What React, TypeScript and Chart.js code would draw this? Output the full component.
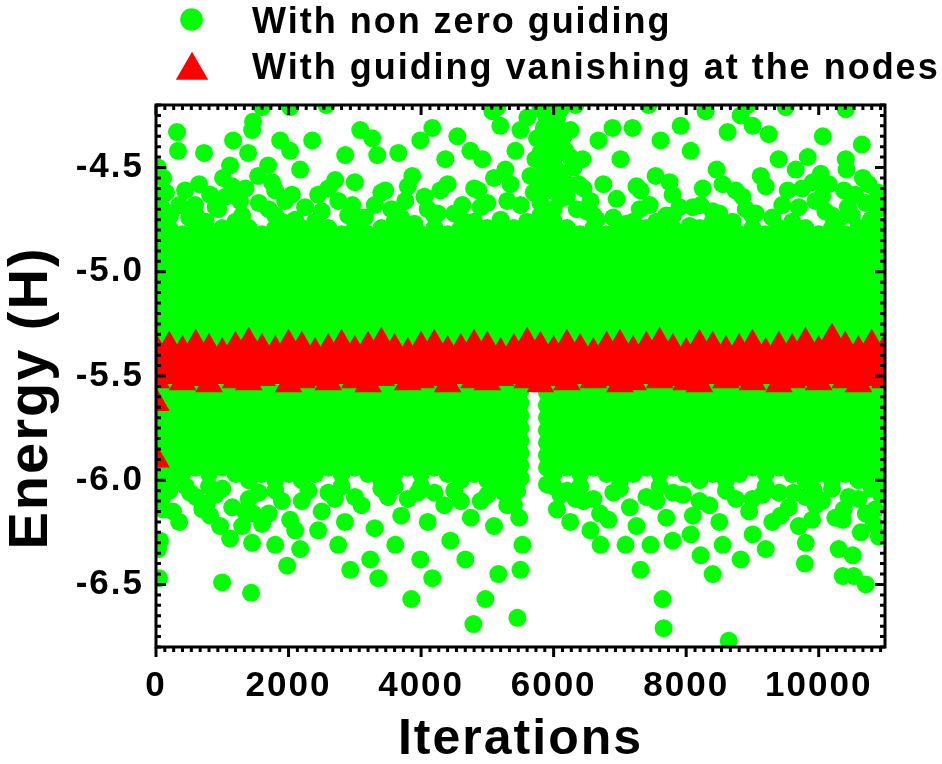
import React, { useEffect, useRef } from "react";
import { Chart, registerables } from "chart.js";

Chart.register(...registerables);

// ---------- data ----------
const iterations = [
  0, 200, 400, 600, 800, 1000, 1200, 1400, 1600, 1800, 2000, 2200, 2400, 2600,
  2800, 3000, 3200, 3400, 3600, 3800, 4000, 4200, 4400, 4600, 4800, 5000, 5200,
  5400, 5600, 5800, 6000, 6200, 6400, 6600, 6800, 7000, 7200, 7400, 7600, 7800,
  8000, 8200, 8400, 8600, 8800, 9000, 9200, 9400, 9600, 9800, 10000, 10200,
  10400, 10600, 10800, 11000,
];

// green energies of the dense band, one row per entry of `iterations`
const greenCore: number[][] = [
  [-4.76, -4.82, -4.88, -4.94, -5.0, -5.06, -5.12, -5.18, -5.24, -5.3, -5.36, -5.55, -5.61, -5.67, -5.73, -5.79, -5.85, -5.91, -5.97, -6.03],
  [-4.79, -4.85, -4.91, -4.97, -5.03, -5.09, -5.15, -5.21, -5.27, -5.33, -5.58, -5.64, -5.7, -5.76, -5.82, -5.88, -5.94, -6.0],
  [-4.82, -4.88, -4.94, -5.0, -5.06, -5.12, -5.18, -5.24, -5.3, -5.36, -5.55, -5.61, -5.67, -5.73, -5.79, -5.85, -5.91, -5.97],
  [-4.73, -4.79, -4.85, -4.91, -4.97, -5.03, -5.09, -5.15, -5.21, -5.27, -5.33, -5.58, -5.64, -5.7, -5.76, -5.82, -5.88, -5.94],
  [-4.82, -4.88, -4.94, -5.0, -5.06, -5.12, -5.18, -5.24, -5.3, -5.36, -5.55, -5.61, -5.67, -5.73, -5.79, -5.85, -5.91, -5.97, -6.03],
  [-4.79, -4.85, -4.91, -4.97, -5.03, -5.09, -5.15, -5.21, -5.27, -5.33, -5.58, -5.64, -5.7, -5.76, -5.82, -5.88, -5.94],
  [-4.76, -4.82, -4.88, -4.94, -5.0, -5.06, -5.12, -5.18, -5.24, -5.3, -5.36, -5.55, -5.61, -5.67, -5.73, -5.79, -5.85, -5.91, -5.97],
  [-4.79, -4.85, -4.91, -4.97, -5.03, -5.09, -5.15, -5.21, -5.27, -5.33, -5.58, -5.64, -5.7, -5.76, -5.82, -5.88, -5.94, -6.0],
  [-4.82, -4.88, -4.94, -5.0, -5.06, -5.12, -5.18, -5.24, -5.3, -5.36, -5.55, -5.61, -5.67, -5.73, -5.79, -5.85, -5.91, -5.97],
  [-4.73, -4.79, -4.85, -4.91, -4.97, -5.03, -5.09, -5.15, -5.21, -5.27, -5.33, -5.58, -5.64, -5.7, -5.76, -5.82, -5.88, -5.94, -6.0],
  [-4.82, -4.88, -4.94, -5.0, -5.06, -5.12, -5.18, -5.24, -5.3, -5.36, -5.55, -5.61, -5.67, -5.73, -5.79, -5.85, -5.91, -5.97],
  [-4.79, -4.85, -4.91, -4.97, -5.03, -5.09, -5.15, -5.21, -5.27, -5.33, -5.58, -5.64, -5.7, -5.76, -5.82, -5.88, -5.94, -6.0],
  [-4.76, -4.82, -4.88, -4.94, -5.0, -5.06, -5.12, -5.18, -5.24, -5.3, -5.36, -5.55, -5.61, -5.67, -5.73, -5.79, -5.85, -5.91, -5.97],
  [-4.79, -4.85, -4.91, -4.97, -5.03, -5.09, -5.15, -5.21, -5.27, -5.33, -5.58, -5.64, -5.7, -5.76, -5.82, -5.88, -5.94],
  [-4.82, -4.88, -4.94, -5.0, -5.06, -5.12, -5.18, -5.24, -5.3, -5.36, -5.55, -5.61, -5.67, -5.73, -5.79, -5.85, -5.91, -5.97, -6.03],
  [-4.73, -4.79, -4.85, -4.91, -4.97, -5.03, -5.09, -5.15, -5.21, -5.27, -5.33, -5.58, -5.64, -5.7, -5.76, -5.82, -5.88, -5.94],
  [-4.82, -4.88, -4.94, -5.0, -5.06, -5.12, -5.18, -5.24, -5.3, -5.36, -5.55, -5.61, -5.67, -5.73, -5.79, -5.85, -5.91, -5.97],
  [-4.79, -4.85, -4.91, -4.97, -5.03, -5.09, -5.15, -5.21, -5.27, -5.33, -5.58, -5.64, -5.7, -5.76, -5.82, -5.88, -5.94, -6.0],
  [-4.76, -4.82, -4.88, -4.94, -5.0, -5.06, -5.12, -5.18, -5.24, -5.3, -5.36, -5.55, -5.61, -5.67, -5.73, -5.79, -5.85, -5.91, -5.97, -6.03],
  [-4.79, -4.85, -4.91, -4.97, -5.03, -5.09, -5.15, -5.21, -5.27, -5.33, -5.58, -5.64, -5.7, -5.76, -5.82, -5.88, -5.94],
  [-4.82, -4.88, -4.94, -5.0, -5.06, -5.12, -5.18, -5.24, -5.3, -5.36, -5.55, -5.61, -5.67, -5.73, -5.79, -5.85, -5.91, -5.97, -6.03],
  [-4.73, -4.79, -4.85, -4.91, -4.97, -5.03, -5.09, -5.15, -5.21, -5.27, -5.33, -5.58, -5.64, -5.7, -5.76, -5.82, -5.88, -5.94],
  [-4.82, -4.88, -4.94, -5.0, -5.06, -5.12, -5.18, -5.24, -5.3, -5.36, -5.55, -5.61, -5.67, -5.73, -5.79, -5.85, -5.91, -5.97],
  [-4.79, -4.85, -4.91, -4.97, -5.03, -5.09, -5.15, -5.21, -5.27, -5.33, -5.58, -5.64, -5.7, -5.76, -5.82, -5.88, -5.94, -6.0],
  [-4.76, -4.82, -4.88, -4.94, -5.0, -5.06, -5.12, -5.18, -5.24, -5.3, -5.36, -5.55, -5.61, -5.67, -5.73, -5.79, -5.85, -5.91, -5.97],
  [-4.79, -4.85, -4.91, -4.97, -5.03, -5.09, -5.15, -5.21, -5.27, -5.33, -5.58, -5.64, -5.7, -5.76, -5.82, -5.88, -5.94, -6.0],
  [-4.76, -4.82, -4.88, -4.94, -5.0, -5.06, -5.12, -5.18, -5.24, -5.3, -5.36, -5.55, -5.61, -5.67, -5.73, -5.79, -5.85, -5.91, -5.97, -6.03],
  [-4.79, -4.85, -4.91, -4.97, -5.03, -5.09, -5.15, -5.21, -5.27, -5.33, -5.58, -5.64, -5.7, -5.76, -5.82, -5.88, -5.94, -6.0],
  [-4.76, -4.82, -4.88, -4.94, -5.0, -5.06, -5.12, -5.18, -5.24, -5.3, -5.36],
  [-4.73, -4.79, -4.85, -4.91, -4.97, -5.03, -5.09, -5.15, -5.21, -5.27, -5.33],
  [-4.76, -4.82, -4.88, -4.94, -5.0, -5.06, -5.12, -5.18, -5.24, -5.3, -5.36, -5.55, -5.61, -5.67, -5.73, -5.79, -5.85, -5.91, -5.97, -6.03],
  [-4.79, -4.85, -4.91, -4.97, -5.03, -5.09, -5.15, -5.21, -5.27, -5.33, -5.58, -5.64, -5.7, -5.76, -5.82, -5.88, -5.94],
  [-4.82, -4.88, -4.94, -5.0, -5.06, -5.12, -5.18, -5.24, -5.3, -5.36, -5.55, -5.61, -5.67, -5.73, -5.79, -5.85, -5.91, -5.97, -6.03],
  [-4.73, -4.79, -4.85, -4.91, -4.97, -5.03, -5.09, -5.15, -5.21, -5.27, -5.33, -5.58, -5.64, -5.7, -5.76, -5.82, -5.88, -5.94],
  [-4.82, -4.88, -4.94, -5.0, -5.06, -5.12, -5.18, -5.24, -5.3, -5.36, -5.55, -5.61, -5.67, -5.73, -5.79, -5.85, -5.91, -5.97],
  [-4.79, -4.85, -4.91, -4.97, -5.03, -5.09, -5.15, -5.21, -5.27, -5.33, -5.58, -5.64, -5.7, -5.76, -5.82, -5.88, -5.94, -6.0],
  [-4.76, -4.82, -4.88, -4.94, -5.0, -5.06, -5.12, -5.18, -5.24, -5.3, -5.36, -5.55, -5.61, -5.67, -5.73, -5.79, -5.85, -5.91, -5.97],
  [-4.79, -4.85, -4.91, -4.97, -5.03, -5.09, -5.15, -5.21, -5.27, -5.33, -5.58, -5.64, -5.7, -5.76, -5.82, -5.88, -5.94],
  [-4.82, -4.88, -4.94, -5.0, -5.06, -5.12, -5.18, -5.24, -5.3, -5.36, -5.55, -5.61, -5.67, -5.73, -5.79, -5.85, -5.91, -5.97, -6.03],
  [-4.73, -4.79, -4.85, -4.91, -4.97, -5.03, -5.09, -5.15, -5.21, -5.27, -5.33, -5.58, -5.64, -5.7, -5.76, -5.82, -5.88, -5.94],
  [-4.82, -4.88, -4.94, -5.0, -5.06, -5.12, -5.18, -5.24, -5.3, -5.36, -5.55, -5.61, -5.67, -5.73, -5.79, -5.85, -5.91, -5.97],
  [-4.79, -4.85, -4.91, -4.97, -5.03, -5.09, -5.15, -5.21, -5.27, -5.33, -5.58, -5.64, -5.7, -5.76, -5.82, -5.88, -5.94, -6.0],
  [-4.76, -4.82, -4.88, -4.94, -5.0, -5.06, -5.12, -5.18, -5.24, -5.3, -5.36, -5.55, -5.61, -5.67, -5.73, -5.79, -5.85, -5.91, -5.97],
  [-4.79, -4.85, -4.91, -4.97, -5.03, -5.09, -5.15, -5.21, -5.27, -5.33, -5.58, -5.64, -5.7, -5.76, -5.82, -5.88, -5.94, -6.0],
  [-4.82, -4.88, -4.94, -5.0, -5.06, -5.12, -5.18, -5.24, -5.3, -5.36, -5.55, -5.61, -5.67, -5.73, -5.79, -5.85, -5.91, -5.97],
  [-4.73, -4.79, -4.85, -4.91, -4.97, -5.03, -5.09, -5.15, -5.21, -5.27, -5.33, -5.58, -5.64, -5.7, -5.76, -5.82, -5.88, -5.94],
  [-4.82, -4.88, -4.94, -5.0, -5.06, -5.12, -5.18, -5.24, -5.3, -5.36, -5.55, -5.61, -5.67, -5.73, -5.79, -5.85, -5.91, -5.97, -6.03],
  [-4.79, -4.85, -4.91, -4.97, -5.03, -5.09, -5.15, -5.21, -5.27, -5.33, -5.58, -5.64, -5.7, -5.76, -5.82, -5.88, -5.94],
  [-4.76, -4.82, -4.88, -4.94, -5.0, -5.06, -5.12, -5.18, -5.24, -5.3, -5.36, -5.55, -5.61, -5.67, -5.73, -5.79, -5.85, -5.91, -5.97],
  [-4.79, -4.85, -4.91, -4.97, -5.03, -5.09, -5.15, -5.21, -5.27, -5.33, -5.58, -5.64, -5.7, -5.76, -5.82, -5.88, -5.94, -6.0],
  [-4.82, -4.88, -4.94, -5.0, -5.06, -5.12, -5.18, -5.24, -5.3, -5.36, -5.55, -5.61, -5.67, -5.73, -5.79, -5.85, -5.91, -5.97],
  [-4.73, -4.79, -4.85, -4.91, -4.97, -5.03, -5.09, -5.15, -5.21, -5.27, -5.33, -5.58, -5.64, -5.7, -5.76, -5.82, -5.88, -5.94, -6.0],
  [-4.82, -4.88, -4.94, -5.0, -5.06, -5.12, -5.18, -5.24, -5.3, -5.36, -5.55, -5.61, -5.67, -5.73, -5.79, -5.85, -5.91, -5.97],
  [-4.79, -4.85, -4.91, -4.97, -5.03, -5.09, -5.15, -5.21, -5.27, -5.33, -5.58, -5.64, -5.7, -5.76, -5.82, -5.88, -5.94, -6.0],
  [-4.76, -4.82, -4.88, -4.94, -5.0, -5.06, -5.12, -5.18, -5.24, -5.3, -5.36, -5.55, -5.61, -5.67, -5.73, -5.79, -5.85, -5.91, -5.97],
  [-4.79, -4.85, -4.91, -4.97, -5.03, -5.09, -5.15, -5.21, -5.27, -5.33, -5.58, -5.64, -5.7, -5.76, -5.82, -5.88, -5.94, -6.0],
];

// scattered green samples [iteration, energy]
const greenUpperScatter: [number, number][] = [
  [30, -4.5], [60, -4.63], [106, -4.55], [211, -4.73], [317, -4.33], [332, -4.42], [438, -4.61], [589, -4.68],
  [725, -4.43], [816, -4.63], [937, -4.7], [1012, -4.55], [1148, -4.59], [1163, -4.37], [1118, -4.49], [1269, -4.66],
  [1390, -4.43], [1450, -4.32], [1465, -4.28], [1541, -4.54], [1601, -4.21], [1692, -4.49], [1798, -4.61], [1873, -4.37],
  [2024, -4.21], [2024, -4.42], [1949, -4.66], [2175, -4.51], [2357, -4.37], [2447, -4.63], [2568, -4.2], [2704, -4.56],
  [2855, -4.44], [2961, -4.68], [3082, -4.32], [3263, -4.36], [3338, -4.44], [3459, -4.61], [3656, -4.43], [3761, -4.66],
  [3867, -4.54], [3988, -4.37], [4169, -4.31], [4290, -4.61], [4366, -4.46], [4547, -4.35], [4622, -4.68], [4743, -4.42],
  [4924, -4.46], [4864, -4.61], [5076, -4.23], [5151, -4.21], [5196, -4.3], [5272, -4.51], [5423, -4.42], [5499, -4.32],
  [5604, -4.26], [5725, -4.46], [5801, -4.22], [5876, -4.2], [5922, -4.37], [5982, -4.3], [6042, -4.54], [6103, -4.22],
  [6178, -4.42], [6254, -4.32], [6330, -4.2], [6375, -4.58], [6435, -4.46], [6556, -4.66], [6677, -4.37], [6888, -4.31],
  [7009, -4.46], [7190, -4.31], [7311, -4.61], [7432, -4.2], [7538, -4.54], [7613, -4.37], [7795, -4.63], [7916, -4.3],
  [8067, -4.42], [8218, -4.68], [8293, -4.23], [8459, -4.51], [8625, -4.33], [8746, -4.61], [8822, -4.25], [8928, -4.2],
  [9003, -4.3], [9124, -4.54], [9245, -4.34], [9396, -4.46], [9502, -4.21], [10408, -4.22], [10061, -4.35], [10650, -4.39],
  [9834, -4.45], [10408, -4.46], [10420, -4.51], [9653, -4.51], [10031, -4.53], [10665, -4.55], [9532, -4.61], [9910, -4.57],
  [10380, -4.61], [10892, -4.62], [10050, -4.64], [10710, -4.67], [10440, -4.69], [10786, -4.75],
  [100, -4.7], [500, -4.74], [900, -4.69], [1300, -4.73], [1700, -4.7], [2100, -4.75], [2500, -4.71], [2900, -4.73],
  [3300, -4.68], [3700, -4.74], [4100, -4.7], [4500, -4.72], [4900, -4.69], [5300, -4.66], [5700, -4.62], [6100, -4.65],
  [6500, -4.71], [6900, -4.74], [7300, -4.7], [7700, -4.73], [8100, -4.69], [8500, -4.72], [8900, -4.7], [9300, -4.74],
  [9700, -4.69], [10100, -4.71], [10500, -4.73], [10900, -4.7],
  [5800, -4.67], [5800, -4.55], [5800, -4.43], [5900, -4.61], [5900, -4.49], [5900, -4.37], [5900, -4.27], [6000, -4.7],
  [6000, -4.58], [6000, -4.46], [6000, -4.34], [6100, -4.52], [6100, -4.4], [6200, -4.64], [6200, -4.58], [6300, -4.5],
  [5850, -4.31], [5950, -4.42], [6050, -4.27], [6150, -4.35], [6050, -4.62], [5850, -4.52], [5750, -4.36], [6250, -4.45],
  [150, -4.62], [350, -4.68], [650, -4.58], [750, -4.76], [1050, -4.64], [1200, -4.77], [1350, -4.6], [1550, -4.67],
  [1750, -4.57], [1900, -4.76], [2050, -4.63], [2250, -4.69], [2400, -4.78], [2600, -4.6], [2750, -4.66], [3000, -4.57],
  [3150, -4.74], [3400, -4.62], [3550, -4.7], [3800, -4.59], [3900, -4.77], [4050, -4.64], [4250, -4.72], [4400, -4.58],
  [4650, -4.76], [4800, -4.6], [5000, -4.67], [5100, -4.55], [5200, -4.75], [5350, -4.58], [5500, -4.68], [5650, -4.54],
  [6350, -4.7], [6450, -4.6], [6650, -4.75], [6750, -4.58], [6950, -4.65], [7100, -4.77], [7250, -4.59], [7450, -4.68],
  [7550, -4.76], [7750, -4.57], [7900, -4.69], [8050, -4.78], [8250, -4.6], [8400, -4.71], [8550, -4.58], [8700, -4.76],
  [8850, -4.64], [9050, -4.72], [9200, -4.59], [9450, -4.68], [9600, -4.77], [9750, -4.6], [9950, -4.66], [10150, -4.58],
  [10300, -4.75], [10550, -4.63], [10750, -4.58], [10950, -4.68],
];

const greenLowerScatter: [number, number][] = [
  [60, -6.29], [30, -6.33], [45, -6.47], [106, -6.14], [257, -6.15], [514, -6.06], [770, -6.11], [816, -6.17],
  [967, -6.22], [1118, -6.28], [1344, -6.15], [1465, -6.16], [1450, -6.3], [997, -6.49], [1435, -6.54], [1601, -6.21],
  [1798, -6.31], [2024, -6.19], [1979, -6.41], [2175, -6.33], [2447, -6.24], [2749, -6.31], [2931, -6.43], [3233, -6.38],
  [3354, -6.47], [3610, -6.31], [3852, -6.57], [3988, -6.38], [4169, -6.47], [4441, -6.29], [4668, -6.38], [4789, -6.69],
  [4970, -6.57], [5166, -6.45], [5453, -6.66], [5499, -6.43], [5529, -6.31], [5400, -6.12], [5450, -6.05], [5480, -6.18],
  [5900, -6.02], [6103, -6.07], [6330, -6.09], [6556, -6.24], [6707, -6.31], [6828, -6.19], [7085, -6.31], [7311, -6.43],
  [7462, -6.31], [7643, -6.57], [7659, -6.71], [7795, -6.29], [8067, -6.26], [8218, -6.36], [8399, -6.45], [8550, -6.31],
  [8641, -6.77], [8822, -6.38], [9003, -6.26], [9200, -6.33], [9426, -6.17], [9622, -6.06], [9925, -6.05], [9955, -6.12],
  [9900, -6.19], [9804, -6.3], [9790, -6.4], [10363, -6.19], [10302, -6.33], [10514, -6.36], [10363, -6.46], [10530, -6.46],
  [10710, -6.5], [10906, -6.27], [10831, -6.21], [10635, -6.25], [10378, -6.14], [10850, -6.14], [10937, -6.07], [10710, -6.16],
  [200, -6.05], [600, -6.08], [1000, -6.04], [1400, -6.09], [1800, -6.05], [2200, -6.1], [2600, -6.06], [3000, -6.08],
  [3400, -6.04], [3800, -6.09], [4200, -6.06], [4600, -6.1], [5000, -6.07], [5300, -6.12], [6200, -6.05], [6600, -6.09],
  [7000, -6.04], [7400, -6.08], [7800, -6.06], [8200, -6.1], [8600, -6.05], [9000, -6.09], [9400, -6.06], [9800, -6.08],
  [10200, -6.04], [10600, -6.09], [11000, -6.06],
  [100, -6.08], [350, -6.2], [450, -6.03], [700, -6.14], [900, -6.07], [1150, -6.13], [1300, -6.22], [1550, -6.06],
  [1700, -6.16], [1900, -6.1], [2100, -6.24], [2300, -6.05], [2500, -6.15], [2700, -6.09], [2850, -6.2], [3100, -6.12],
  [3300, -6.23], [3500, -6.08], [3700, -6.17], [3950, -6.06], [4100, -6.2], [4350, -6.12], [4500, -6.05], [4750, -6.18],
  [4900, -6.1], [5100, -6.22], [5250, -6.06], [6050, -6.14], [6250, -6.2], [6450, -6.1], [6700, -6.16], [6900, -6.06],
  [7150, -6.13], [7250, -6.22], [7550, -6.1], [7700, -6.18], [7950, -6.07], [8100, -6.17], [8350, -6.12], [8500, -6.2],
  [8750, -6.09], [8950, -6.15], [9150, -6.07], [9300, -6.2], [9550, -6.13], [9700, -6.22], [10050, -6.1], [10250, -6.18],
  [10450, -6.08], [10800, -6.04],
  [5500, -5.57], [5500, -5.63], [5500, -5.69], [5500, -5.75], [5500, -5.81], [5500, -5.87], [5500, -5.93], [5500, -5.99],
  [5900, -5.58], [5900, -5.64], [5900, -5.7], [5900, -5.76], [5900, -5.82], [5900, -5.88], [5900, -5.94],
];

// red energies, one row per entry of `iterations`
const redCore: number[][] = [
  [-5.37, -5.41, -5.45, -5.48, -5.52], [-5.36, -5.4, -5.43, -5.47, -5.5], [-5.38, -5.42, -5.45, -5.49, -5.53],
  [-5.35, -5.39, -5.43, -5.47, -5.51], [-5.37, -5.41, -5.46, -5.5, -5.54], [-5.39, -5.42, -5.45, -5.47, -5.5],
  [-5.36, -5.4, -5.44, -5.48, -5.52], [-5.34, -5.39, -5.44, -5.48, -5.53], [-5.37, -5.4, -5.44, -5.47, -5.51],
  [-5.38, -5.41, -5.44, -5.47, -5.5], [-5.35, -5.4, -5.45, -5.49, -5.54], [-5.36, -5.4, -5.44, -5.48, -5.52],
  [-5.39, -5.42, -5.45, -5.48, -5.51], [-5.37, -5.41, -5.45, -5.49, -5.53], [-5.35, -5.39, -5.43, -5.46, -5.5],
  [-5.38, -5.42, -5.45, -5.49, -5.52], [-5.36, -5.41, -5.45, -5.5, -5.54], [-5.34, -5.38, -5.43, -5.47, -5.51],
  [-5.37, -5.4, -5.44, -5.47, -5.5], [-5.39, -5.43, -5.46, -5.5, -5.53], [-5.36, -5.4, -5.44, -5.48, -5.52],
  [-5.35, -5.39, -5.43, -5.47, -5.51], [-5.38, -5.42, -5.46, -5.5, -5.54], [-5.37, -5.4, -5.44, -5.47, -5.5],
  [-5.35, -5.39, -5.44, -5.48, -5.52], [-5.36, -5.4, -5.45, -5.49, -5.53], [-5.39, -5.42, -5.45, -5.48, -5.51],
  [-5.37, -5.4, -5.44, -5.47, -5.5], [-5.34, -5.39, -5.43, -5.48, -5.52], [-5.36, -5.41, -5.45, -5.5, -5.54],
  [-5.38, -5.41, -5.45, -5.48, -5.51], [-5.35, -5.4, -5.44, -5.49, -5.53], [-5.37, -5.4, -5.44, -5.47, -5.5],
  [-5.39, -5.42, -5.46, -5.49, -5.52], [-5.36, -5.4, -5.44, -5.47, -5.51], [-5.35, -5.4, -5.45, -5.49, -5.54],
  [-5.38, -5.42, -5.46, -5.49, -5.53], [-5.36, -5.4, -5.43, -5.47, -5.5], [-5.34, -5.39, -5.43, -5.48, -5.52],
  [-5.37, -5.41, -5.44, -5.48, -5.51], [-5.39, -5.43, -5.46, -5.5, -5.53], [-5.35, -5.4, -5.45, -5.49, -5.54],
  [-5.36, -5.4, -5.43, -5.47, -5.5], [-5.38, -5.42, -5.45, -5.49, -5.52], [-5.37, -5.41, -5.44, -5.48, -5.51],
  [-5.35, -5.4, -5.44, -5.49, -5.53], [-5.39, -5.42, -5.45, -5.47, -5.5], [-5.36, -5.41, -5.45, -5.5, -5.54],
  [-5.37, -5.41, -5.45, -5.48, -5.52], [-5.34, -5.38, -5.43, -5.47, -5.51], [-5.38, -5.42, -5.46, -5.49, -5.53],
  [-5.32, -5.37, -5.41, -5.46, -5.5], [-5.36, -5.4, -5.44, -5.48, -5.52], [-5.38, -5.42, -5.46, -5.5, -5.54],
  [-5.35, -5.39, -5.43, -5.47, -5.51], [-5.37, -5.41, -5.45, -5.48, -5.52],
];
const redScatter: [number, number][] = [[0, -5.63], [0, -5.9]];

const xTickValues = [0, 2000, 4000, 6000, 8000, 10000];
const yTickValues = [-6.5, -6.0, -5.5, -5.0, -4.5];
const seriesLabels = ["With non zero guiding", "With guiding vanishing at the nodes"];
const xTitle = "Iterations";
const yTitle = "Energy (H)";

// ---------- styles ----------
const FONT = "'Liberation Sans', Arial, Helvetica, sans-serif";
const GREEN = "#00ff00";
const RED = "#ff0000";

function buildPoints(core: number[][], scatter: [number, number][]) {
  const pts: { x: number; y: number }[] = [];
  core.forEach((col, i) => col.forEach((v) => pts.push({ x: iterations[i], y: v })));
  scatter.forEach(([x, y]) => pts.push({ x, y }));
  return pts;
}

function drawTriangle(ctx: CanvasRenderingContext2D, x: number, y: number, r: number) {
  let rad = 0;
  ctx.beginPath();
  for (let k = 0; k < 3; k++) {
    const px = x + Math.sin(rad) * r;
    const py = y - Math.cos(rad) * r;
    if (k === 0) ctx.moveTo(px, py);
    else ctx.lineTo(px, py);
    rad += (2 * Math.PI) / 3;
  }
  ctx.closePath();
  ctx.fill();
}

const decorPlugin = {
  id: "decor",
  beforeDraw(chart: any) {
    (chart.ctx as any).letterSpacing = "2px";
  },
  afterDraw(chart: any) {
    const { ctx, chartArea: a, scales } = chart;
    const xs = scales.x;
    const ys = scales.y;
    ctx.save();
    // frame
    ctx.strokeStyle = "#000";
    ctx.lineWidth = 3;
    ctx.strokeRect(a.left, a.top, a.right - a.left, a.bottom - a.top);
    // ticks
    ctx.beginPath();
    const xMinor = 2000 / 15;
    for (let k = 0; k * xMinor <= xs.max + 1e-6; k++) {
      const px = xs.getPixelForValue(k * xMinor);
      const len = k % 15 === 0 ? 10 : 5;
      ctx.moveTo(px, a.bottom);
      ctx.lineTo(px, a.bottom + len);
      ctx.moveTo(px, a.top);
      ctx.lineTo(px, a.top + len);
    }
    for (let k = 0; ; k++) {
      const v = ys.min + k * 0.05;
      if (v > ys.max + 1e-6) break;
      const major = Math.abs(v * 2 - Math.round(v * 2)) < 1e-6;
      const len = major ? 10 : 5;
      const py = ys.getPixelForValue(v);
      ctx.moveTo(a.left, py);
      ctx.lineTo(a.left + len, py);
      ctx.moveTo(a.right, py);
      ctx.lineTo(a.right - len, py);
    }
    ctx.stroke();

    // y-axis title
    ctx.fillStyle = "#000";
    (ctx as any).letterSpacing = "2px";
    ctx.save();
    ctx.translate(47, 398);
    ctx.rotate(-Math.PI / 2);
    ctx.font = `bold 56px ${FONT}`;
    ctx.textAlign = "center";
    ctx.textBaseline = "alphabetic";
    ctx.fillText(yTitle, 0, 0);
    ctx.restore();

    // legend
    ctx.fillStyle = GREEN;
    ctx.beginPath();
    ctx.arc(191.5, 19.5, 11.3, 0, Math.PI * 2);
    ctx.fill();
    ctx.fillStyle = RED;
    drawTriangle(ctx, 192, 70.5, 18.7);
    ctx.fillStyle = "#000";
    ctx.font = `bold 36px ${FONT}`;
    ctx.textAlign = "left";
    ctx.textBaseline = "alphabetic";
    ctx.fillText(seriesLabels[0], 252, 33);
    ctx.fillText(seriesLabels[1], 252, 79);
    ctx.restore();
  },
};

export default function App() {
  const ref = useRef<HTMLCanvasElement | null>(null);
  useEffect(() => {
    document.body.style.margin = "0";
    if (!ref.current) return;
    const chart = new Chart(ref.current, {
      type: "scatter",
      data: {
        datasets: [
          {
            label: seriesLabels[0],
            data: buildPoints(greenCore, [...greenUpperScatter, ...greenLowerScatter]),
            pointStyle: "circle",
            pointRadius: 9,
            pointBackgroundColor: GREEN,
            pointBorderWidth: 0,
            clip: 0,
            order: 2,
          },
          {
            label: seriesLabels[1],
            data: buildPoints(redCore, redScatter),
            pointStyle: "triangle",
            pointRadius: 16,
            pointBackgroundColor: RED,
            pointBorderWidth: 0,
            clip: 0,
            order: 1,
          },
        ],
      },
      options: {
        animation: false,
        responsive: false,
        devicePixelRatio: 1,
        events: [],
        layout: { padding: { top: 105, right: 57, bottom: 0, left: 0 } },
        plugins: { legend: { display: false }, tooltip: { enabled: false }, title: { display: false } },
        scales: {
          x: {
            type: "linear",
            min: 0,
            max: 11000,
            grid: { display: false, drawTicks: false },
            border: { display: false },
            afterFit: (s: any) => {
              s.height = 117;
            },
            afterBuildTicks: (s: any) => {
              s.ticks = xTickValues.map((value) => ({ value }));
            },
            ticks: {
              autoSkip: false,
              maxRotation: 0,
              minRotation: 0,
              padding: 18,
              color: "#000",
              font: { family: FONT, size: 35, weight: "bold" },
              callback: (v: any) => String(v),
            },
            title: {
              display: true,
              text: xTitle,
              color: "#000",
              font: { family: FONT, size: 50, weight: "bold", lineHeight: 1 },
              padding: { top: 0, bottom: -1 },
            },
          },
          y: {
            type: "linear",
            min: -6.8,
            max: -4.2,
            grid: { display: false, drawTicks: false },
            border: { display: false },
            afterFit: (s: any) => {
              s.width = 156;
            },
            afterBuildTicks: (s: any) => {
              s.ticks = yTickValues.map((value) => ({ value }));
            },
            ticks: {
              autoSkip: false,
              padding: 12,
              color: "#000",
              font: { family: FONT, size: 35, weight: "bold" },
              callback: (v: any) => Number(v).toFixed(1),
            },
            title: { display: false, text: yTitle },
          },
        },
      },
      plugins: [decorPlugin],
    });
    return () => chart.destroy();
  }, []);
  return (
    <div style={{ width: 942, height: 764 }}>
      <canvas ref={ref} width={942} height={764} />
    </div>
  );
}
